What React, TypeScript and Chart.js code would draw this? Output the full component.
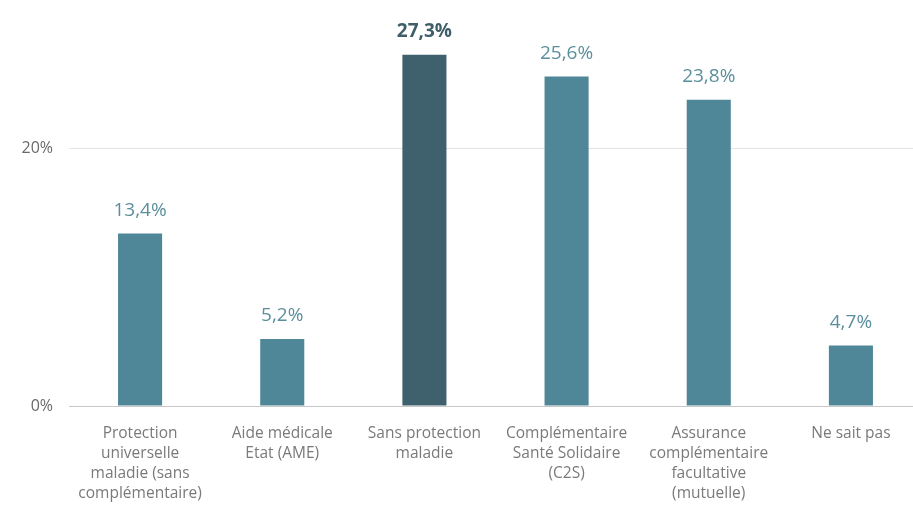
import React, { useEffect, useRef } from "react";
import { Chart, registerables } from "chart.js";

Chart.register(...registerables);

const categories: string[][] = [
  ["Protection", "universelle", "maladie (sans", "complémentaire)"],
  ["Aide médicale", "Etat (AME)"],
  ["Sans protection", "maladie"],
  ["Complémentaire", "Santé Solidaire", "(C2S)"],
  ["Assurance", "complémentaire", "facultative", "(mutuelle)"],
  ["Ne sait pas"],
];
const values: number[] = [13.4, 5.2, 27.3, 25.6, 23.8, 4.7];
const highlightIndex = 2;
const yTicks: number[] = [0, 20];

const BAR = "#4f8799";
const BAR_DARK = "#3e616d";
const LABEL = "#5b8f9c";
const LABEL_DARK = "#3e5f6a";
const FONT = "'Open Sans', sans-serif";

const fmt = (v: number) => v.toFixed(1).replace(".", ",") + "%";

const valueLabels = {
  id: "valueLabels",
  afterDatasetsDraw(chart: any) {
    const ctx = chart.ctx;
    const meta = chart.getDatasetMeta(0);
    ctx.save();
    ctx.textAlign = "center";
    ctx.textBaseline = "middle";
    meta.data.forEach((bar: any, i: number) => {
      const hi = i === highlightIndex;
      ctx.font = `${hi ? "bold " : ""}19px ${FONT}`;
      ctx.fillStyle = hi ? LABEL_DARK : LABEL;
      ctx.fillText(fmt(values[i]), bar.x, bar.y - 23);
    });
    ctx.restore();
  },
};

export default function App() {
  const ref = useRef<HTMLCanvasElement>(null);
  useEffect(() => {
    document.body.style.margin = "0";
    const chart = new Chart(ref.current!, {
      type: "bar",
      data: {
        labels: categories,
        datasets: [
          {
            data: values,
            backgroundColor: values.map((_, i) => (i === highlightIndex ? BAR_DARK : BAR)),
            barPercentage: 0.31,
            categoryPercentage: 1,
          },
        ],
      },
      options: {
        animation: false,
        responsive: false,
        layout: { padding: { top: 20, left: 0, right: 0, bottom: 0 } },
        plugins: { legend: { display: false }, tooltip: { enabled: false } },
        scales: {
          x: {
            grid: { display: false, drawTicks: false },
            border: { display: true, color: "#c8c8c8", width: 1 },
            ticks: {
              padding: 18,
              maxRotation: 0,
              autoSkip: false,
              color: "#7a7a7a",
              font: { family: FONT, size: 15.5, lineHeight: "20px" } as any,
            },
            afterFit: (s: any) => {
              s.height = 108;
              s.paddingLeft = 0;
              s.paddingRight = 0;
            },
          },
          y: {
            min: 0,
            max: 30,
            afterBuildTicks: (axis: any) => {
              axis.ticks = yTicks.map((v) => ({ value: v }));
            },
            grid: { color: "#e2e2e2", drawTicks: false },
            border: { display: false },
            ticks: {
              padding: 16,
              color: "#6a6a6a",
              font: { family: FONT, size: 16 },
              callback: (v: any) => v + "%",
            },
            afterFit: (s: any) => {
              s.width = 69;
              s.paddingTop = 0;
              s.paddingBottom = 0;
            },
          },
        },
      },
      plugins: [valueLabels],
    });
    return () => chart.destroy();
  }, []);
  return (
    <div style={{ position: "fixed", left: 0, top: 0, width: 913, height: 514, overflow: "hidden", background: "#fff" }}>
      <canvas ref={ref} width={922} height={514} style={{ width: 922, height: 514, display: "block" }} />
    </div>
  );
}
